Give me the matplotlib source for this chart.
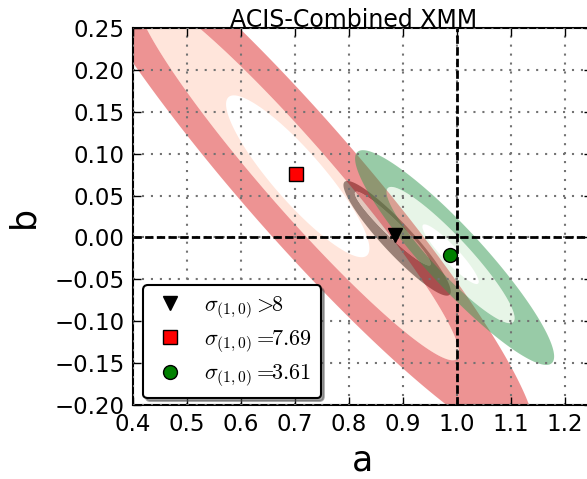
import numpy as np
import matplotlib
matplotlib.use("Agg")
import matplotlib.pyplot as plt
from matplotlib.path import Path
from matplotlib.patches import PathPatch

plt.rcParams['mathtext.fontset'] = 'cm'
plt.rcParams['font.family'] = ['DejaVu Sans']

# best-fit points (a, b)
fit_labels = [r'$\sigma_{(1,0)}>\!\!8$', r'$\sigma_{(1,0)}=\!\!7.69$', r'$\sigma_{(1,0)}=\!\!3.61$']
fit_a = [0.885, 0.702, 0.987]
fit_b = [0.003, 0.0757, -0.021]

# axis ticks
x_ticks = [0.4, 0.5, 0.6, 0.7, 0.8, 0.9, 1.0, 1.1, 1.2]
y_ticks = [-0.20, -0.15, -0.10, -0.05, 0.00, 0.05, 0.10, 0.15, 0.20, 0.25]

# confidence regions: centre, major semi-axis vector, minor semi-axis vector (data units)
# ACIS-combined fit (inner, middle, outer contour)
acis_centre = [(0.705, 0.073), (0.705, 0.073), (0.705, 0.073)]
acis_major = [(0.128, -0.0946), (0.295, -0.218), (0.432, -0.319)]
acis_minor = [(0.0350, 0.0196), (0.0475, 0.0266), (0.0825, 0.0462)]

# XMM fit (inner, middle, outer contour)
xmm_centre = [(0.988, -0.020), (0.988, -0.021), (0.9955, -0.024)]
xmm_major = [(0.051, -0.035), (0.116, -0.080), (0.180, -0.126)]
xmm_minor = [(0.0109, 0.0065), (0.0245, 0.0146), (0.0395, 0.0235)]

# combined fit (inner, outer contour)
comb_centre = [(0.881, 0.0106), (0.889, -0.001)]
comb_major = [(0.0694, -0.0436), (0.0972, -0.0674)]
comb_minor = [(0.0109, 0.0065), (0.0204, 0.0122)]


def ellipse_xy(c, u, v, n=361):
    t = np.linspace(0, 2 * np.pi, n)
    x = c[0] + np.cos(t) * u[0] + np.sin(t) * v[0]
    y = c[1] + np.cos(t) * u[1] + np.sin(t) * v[1]
    return np.column_stack([x, y])


def band(ax, outer, inner, **kw):
    po = ellipse_xy(*outer)
    verts = [po]
    codes = [np.full(len(po), Path.LINETO)]
    codes[0][0] = Path.MOVETO
    if inner is not None:
        pi = ellipse_xy(*inner)[::-1]
        verts.append(pi)
        c = np.full(len(pi), Path.LINETO)
        c[0] = Path.MOVETO
        codes.append(c)
    path = Path(np.vstack(verts), np.concatenate(codes))
    ax.add_patch(PathPatch(path, lw=0, zorder=1, **kw))


fig = plt.figure(figsize=(5.87, 4.79), dpi=100)
ax = fig.add_axes([0.2266, 0.1545, 0.782, 0.787])

# combined fit
cc = list(zip(comb_centre, comb_major, comb_minor))
band(ax, cc[1], cc[0], facecolor='#767676')
band(ax, cc[0], None, facecolor='#d8d6d6')

# ACIS-combined fit
ac = list(zip(acis_centre, acis_major, acis_minor))
band(ax, ac[2], ac[1], facecolor='#dc2828', alpha=0.5)
band(ax, ac[1], ac[0], facecolor='lightsalmon', alpha=0.27)

# XMM fit
xc = list(zip(xmm_centre, xmm_major, xmm_minor))
band(ax, xc[2], xc[1], facecolor='#339951', alpha=0.5)
band(ax, xc[1], xc[0], facecolor='#96d296', alpha=0.22)

ax.axvline(1.0, color='k', lw=2, ls=(0, (3, 1.2)), zorder=3)
ax.axhline(0.0, color='k', lw=2, ls=(0, (3, 1.2)), zorder=3)

ax.plot(fit_a[0], fit_b[0], 'v', color='k', ms=10, mec='k', ls='none', zorder=4, label=fit_labels[0])
ax.plot(fit_a[1], fit_b[1], 's', color='red', ms=9.5, mec='k', ls='none', zorder=4, label=fit_labels[1])
ax.plot(fit_a[2], fit_b[2], 'o', color='green', ms=10, mec='k', ls='none', zorder=4, label=fit_labels[2])

ax.set_xlim(0.4, 1.25)
ax.set_ylim(-0.2, 0.25)
ax.set_xticks(x_ticks)
ax.set_yticks(y_ticks)
ax.set_xticklabels([f'{v:.1f}' for v in x_ticks])
ax.set_yticklabels([f'{v:.2f}'.replace('-', '\u2212') for v in y_ticks])
ax.tick_params(direction='in', length=6, width=1, top=True, right=True, labelsize=16.5, pad=6)
ax.grid(True, color='0.45', ls=(0, (1, 3.3)), lw=1.5)
ax.set_axisbelow(False)
for s in ax.spines.values():
    s.set_linewidth(1.5)

ax.set_xlabel('a', fontsize=25, labelpad=5)
ax.set_ylabel('b', fontsize=25, labelpad=10)
ax.set_title('ACIS-Combined XMM', fontsize=17, x=0.4815, pad=1)

leg = ax.legend(loc='lower left', bbox_to_anchor=(0.022, 0.018), borderaxespad=0,
                numpoints=1, fontsize=16, shadow=True, fancybox=True, framealpha=1,
                handlelength=1.6, handletextpad=0.75, labelspacing=0.35, borderpad=0.4)
leg.get_frame().set_edgecolor('k')
leg.get_frame().set_linewidth(1.5)
leg.set_zorder(5)

fig.savefig('out.png', dpi=100)
